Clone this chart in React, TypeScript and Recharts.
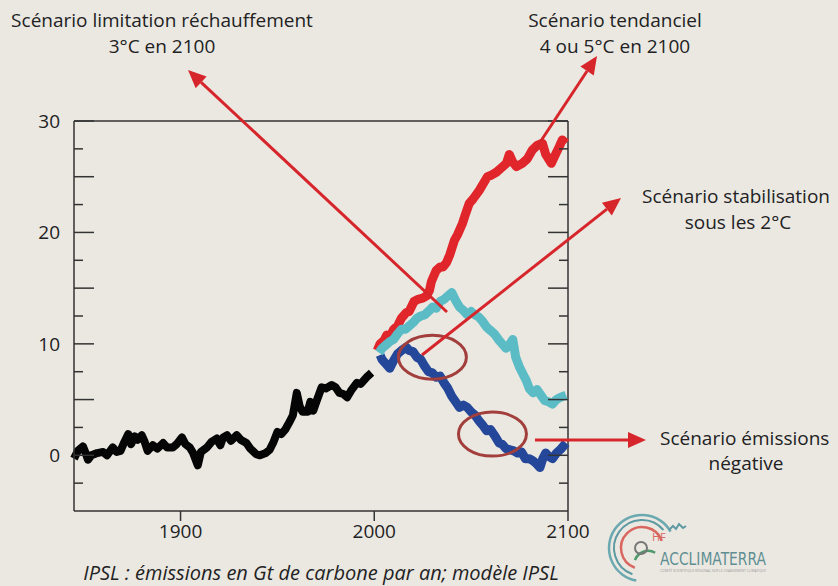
import React from "react";
import { LineChart, Line, XAxis, YAxis, ReferenceLine, ReferenceDot } from "recharts";

// ---- data (year, Gt C / yr) ----
const historicalYears = [1845,1847,1849.6,1851,1852.2,1854,1857,1860,1862,1865,1867,1869,1871,1873,1874.5,1876.4,1878,1880,1881.5,1883,1885.7,1888,1891,1893,1896,1898,1900.7,1902.5,1904.8,1906.5,1908.9,1910.5,1913.6,1916,1918.7,1920.5,1922,1924,1926,1929,1931,1934,1936,1939,1941,1944,1946,1948,1950,1952,1954,1956.3,1958,1960,1961.5,1963,1965.6,1967,1968.5,1970.3,1972.8,1975,1978,1980,1982,1984,1986,1988,1991,1993,1996,1998.6];
const historicalValues = [-0.3,0.4,0.8,0.2,-0.4,0.0,0.2,0.3,0.0,0.7,0.3,0.4,1.2,1.9,1.0,1.7,1.4,1.8,1.2,0.4,0.9,0.6,1.1,0.7,0.7,1.0,1.6,1.0,0.7,0.2,-0.9,0.3,0.7,1.2,1.5,0.9,1.6,1.8,1.3,1.8,1.4,1.1,0.6,0.1,0.0,0.2,0.5,1.2,2.1,1.9,2.3,3.0,3.6,5.6,4.4,3.9,3.9,4.8,4.0,4.9,6.1,6.0,6.3,6.1,5.6,5.5,5.2,5.8,6.5,6.4,7.0,7.4];

const trendYears = [2001.5,2003,2005,2006.5,2008,2010,2012,2014,2016.5,2018,2020.5,2022.5,2025,2027,2028.5,2029.5,2032,2034,2035.5,2037.3,2039,2041.4,2043,2045.5,2047,2049,2051,2054.3,2056,2058.4,2060,2063,2065,2068.2,2069.7,2071.5,2073.4,2076.4,2079,2081.6,2084,2086.8,2088.5,2091.4,2093,2095.5,2097,2099];
const trendValues = [9.4,10.0,10.3,10.8,10.6,11.3,11.6,12.3,12.8,12.9,13.8,14.0,14.1,14.3,14.8,15.6,16.6,16.9,16.9,17.3,18.0,19.3,19.8,20.8,21.6,22.6,23.0,23.8,24.3,25.0,25.1,25.4,25.7,26.2,27.0,26.3,25.9,26.2,26.6,27.4,27.8,28.0,27.0,26.2,26.8,27.7,28.3,28.0];

const stab2Years = [2002.5,2004,2006,2008,2010,2012,2014,2016,2018,2020,2022,2024,2026,2028.5,2030,2032,2034,2036,2038,2040,2042,2044,2046,2048,2050,2052,2054,2056,2058,2060,2062,2064.5,2066,2068,2070,2071.5,2073,2075,2077,2078.5,2080,2082,2084,2086,2088,2090,2092,2094,2096,2099];
const stab2Values = [9.2,9.6,9.9,10.2,10.4,10.9,11.3,11.3,11.6,11.9,12.3,12.5,12.6,13.0,13.3,13.2,13.8,14.0,14.3,14.6,13.9,13.3,13.0,12.6,12.9,12.6,12.4,12.0,11.5,11.2,10.9,10.3,10.0,9.6,10.0,10.4,8.8,7.9,7.2,6.7,6.0,5.6,5.9,5.4,4.9,4.8,4.6,5.0,5.2,5.4];

const negYears = [2003,2004,2006,2008,2010,2012,2014,2016.5,2018,2020,2022,2024,2026,2028,2030,2032,2034,2036,2038,2040,2042,2044,2046,2048,2050,2052,2054,2056,2058,2060,2062,2064.5,2066,2068,2070,2072,2074,2076,2078,2080,2082,2084,2085.5,2087,2088.5,2090,2092,2094,2096,2099];
const negValues = [9.0,8.6,8.2,7.8,8.5,9.1,9.4,9.7,9.4,9.3,8.8,8.6,8.0,7.5,7.4,7.0,7.1,6.5,6.0,5.3,4.8,4.3,4.5,4.3,3.9,3.6,3.1,2.7,2.2,2.3,1.8,1.1,1.0,0.6,0.5,0.4,0.2,0.3,-0.3,-0.3,-0.5,-0.8,-1.1,-0.3,0.2,-0.1,-0.3,0.2,0.5,1.1];

const xTicks = [1900, 2000, 2100];
const yTicks = [-2.5, 0, 2.5, 5, 7.5, 10, 12.5, 15, 17.5, 20, 22.5, 25, 27.5, 30];
const yLabelTicks = [0, 10, 20, 30];

const ellipseCenters = [
  { year: 2030, value: 8.8 },
  { year: 2061, value: 1.9 },
];

const toRows = (xs: number[], ys: number[]) => xs.map((year, i) => ({ year, value: ys[i] }));
const historical = toRows(historicalYears, historicalValues);
const trend = toRows(trendYears, trendValues);
const stab2 = toRows(stab2Years, stab2Values);
const negative = toRows(negYears, negValues);

// ---- layout ----
const W = 838;
const H = 586;
const PLOT_L = 74;
const PLOT_R = 568;
const FONT = "'Open Sans', 'Noto Sans', sans-serif";
const AXIS = "#333";
const ARROW = "#d7262b";
const TEXT = "#222";
const FS = 19;

const YTick = (props: any) => {
  const { x, y, payload } = props;
  const v = payload.value;
  const major = Math.abs(v % 5) < 1e-6;
  const len = major ? 20 : 9;
  return (
    <g>
      <line x1={PLOT_L} x2={PLOT_L + len} y1={y} y2={y} stroke={AXIS} strokeWidth={1.5} />
      <line x1={PLOT_R - len} x2={PLOT_R} y1={y} y2={y} stroke={AXIS} strokeWidth={1.5} />
      {yLabelTicks.includes(v) && (
        <text x={x} y={y} dy="0.35em" textAnchor="end" fontSize={FS} fill={TEXT} fontFamily={FONT}>
          {v}
        </text>
      )}
    </g>
  );
};

const EllipseShape = (props: any) => (
  <ellipse cx={props.cx} cy={props.cy} rx={34} ry={22} fill="none" stroke="#a23f3c" strokeWidth={3} />
);

const Arrow = ({ x1, y1, x2, y2 }: { x1: number; y1: number; x2: number; y2: number }) => {
  const a = Math.atan2(y2 - y1, x2 - x1);
  const hl = 18;
  const hw = 8;
  const bx = x2 - hl * Math.cos(a);
  const by = y2 - hl * Math.sin(a);
  const px = -Math.sin(a);
  const py = Math.cos(a);
  return (
    <g>
      <line x1={x1} y1={y1} x2={bx} y2={by} stroke={ARROW} strokeWidth={3} />
      <polygon
        points={`${x2},${y2} ${bx + hw * px},${by + hw * py} ${bx - hw * px},${by - hw * py}`}
        fill={ARROW}
      />
    </g>
  );
};

const Label = ({ x, y, lines }: { x: number; y: number; lines: string[] }) => (
  <text x={x} y={y} textAnchor="middle" fontSize={FS} fontWeight={500} fill={TEXT} fontFamily={FONT}>
    {lines.map((l, i) => (
      <tspan key={i} x={x} dy={i === 0 ? 0 : 26}>
        {l}
      </tspan>
    ))}
  </text>
);

const arc = (cx: number, cy: number, r: number, a0: number, a1: number) => {
  const rad = (d: number) => (d * Math.PI) / 180;
  const sx = cx + r * Math.cos(rad(a0));
  const sy = cy + r * Math.sin(rad(a0));
  const ex = cx + r * Math.cos(rad(a1));
  const ey = cy + r * Math.sin(rad(a1));
  const large = Math.abs(a1 - a0) > 180 ? 1 : 0;
  return `M${sx},${sy} A${r},${r} 0 ${large} 1 ${ex},${ey}`;
};

const Logo = () => (
  <g>
    <path d={arc(642, 548, 33, 100, 330)} fill="none" stroke="#6aa9b0" strokeWidth={2.5} />
    <path d={arc(642, 548, 28, 110, 320)} fill="none" stroke="#5d9aa2" strokeWidth={2} />
    <path d="M669,530 l4,-4 l3,3 l3,-5 l4,4 l3,-2" fill="none" stroke="#5d9aa2" strokeWidth={2} />
    <path d={arc(642, 548, 21, 110, 340)} fill="none" stroke="#d9675f" strokeWidth={2.5} />
    <path d={arc(642, 548, 14, 120, 20)} fill="none" stroke="#4e9a6a" strokeWidth={2.5} />
    <circle cx={641} cy={548} r={6} fill="none" stroke="#777" strokeWidth={2} />
    <text x={652} y={541} fontSize={11} fill="#d9675f" fontFamily={FONT}>HF</text>
    <text x={660} y={565} fontSize={17} fill="#5f8f92" fontFamily="'Liberation Sans Narrow', 'DejaVu Sans Condensed', sans-serif" textLength={106} lengthAdjust="spacingAndGlyphs">
      ACCLIMATERRA
    </text>
    <text x={660} y={572} fontSize={3.5} fill="#999" fontFamily={FONT} textLength={106} lengthAdjust="spacingAndGlyphs">
      COMITÉ SCIENTIFIQUE RÉGIONAL SUR LE CHANGEMENT CLIMATIQUE
    </text>
  </g>
);

export default function App() {
  return (
    <div style={{ position: "absolute", left: 0, top: 0, width: W, height: H, background: "#ebe8e2", overflow: "hidden" }}>
      <LineChart width={W} height={H} data={historical} margin={{ top: 121, right: 270, bottom: 35, left: 14 }}>
        <XAxis
          dataKey="year"
          type="number"
          domain={[1845, 2100]}
          ticks={xTicks}
          allowDuplicatedCategory={false}
          height={40}
          tickSize={10}
          tickMargin={4}
          axisLine={{ stroke: AXIS, strokeWidth: 1.5 }}
          tickLine={{ stroke: AXIS, strokeWidth: 1.5 }}
          tick={{ fontSize: FS, fill: TEXT, fontFamily: FONT }}
        />
        <YAxis
          type="number"
          domain={[-5, 30]}
          ticks={yTicks}
          width={60}
          tickSize={0}
          tickMargin={14}
          tickLine={false}
          axisLine={{ stroke: AXIS, strokeWidth: 1.5 }}
          tick={<YTick />}
          interval={0}
        />
        <ReferenceLine y={30} stroke={AXIS} strokeWidth={1.5} />
        <ReferenceLine x={2100} stroke={AXIS} strokeWidth={1.5} />
        <Line data={trend} dataKey="value" stroke="#e0252b" strokeWidth={9} dot={false} isAnimationActive={false} strokeLinejoin="round" />
        <Line data={negative} dataKey="value" stroke="#24479a" strokeWidth={9} dot={false} isAnimationActive={false} strokeLinejoin="round" />
        <Line data={stab2} dataKey="value" stroke="#5bbcc6" strokeWidth={9} dot={false} isAnimationActive={false} strokeLinejoin="round" />
        <Line data={historical} dataKey="value" stroke="#050505" strokeWidth={8} dot={false} isAnimationActive={false} strokeLinejoin="round" />
        {ellipseCenters.map((c, i) => (
          <ReferenceDot key={i} x={c.year} y={c.value} r={0} shape={<EllipseShape />} />
        ))}
      </LineChart>
      <svg width={W} height={H} style={{ position: "absolute", left: 0, top: 0, pointerEvents: "none" }}>
        <Arrow x1={447} y1={312} x2={188} y2={70} />
        <Arrow x1={527} y1={162} x2={597} y2={56} />
        <Arrow x1={422} y1={355} x2={621} y2={198} />
        <Arrow x1={535} y1={440} x2={646} y2={440} />
        <Label x={162} y={27} lines={["Scénario limitation réchauffement", "3°C en 2100"]} />
        <Label x={615} y={27} lines={["Scénario tendanciel", "4 ou 5°C en 2100"]} />
        <text x={642} y={203} fontSize={FS} fontWeight={500} fill={TEXT} fontFamily={FONT}>Scénario stabilisation</text>
        <text x={738} y={229} textAnchor="middle" fontSize={FS} fontWeight={500} fill={TEXT} fontFamily={FONT}>sous les 2°C</text>
        <text x={660} y={445} fontSize={FS} fontWeight={500} fill={TEXT} fontFamily={FONT}>Scénario émissions</text>
        <text x={746} y={470} textAnchor="middle" fontSize={FS} fontWeight={500} fill={TEXT} fontFamily={FONT}>négative</text>
        <text x={321} y={580} textAnchor="middle" fontSize={20} fontStyle="italic" fill={TEXT} fontFamily={FONT}>
          IPSL : émissions en Gt de carbone par an; modèle IPSL
        </text>
        <Logo />
      </svg>
    </div>
  );
}
